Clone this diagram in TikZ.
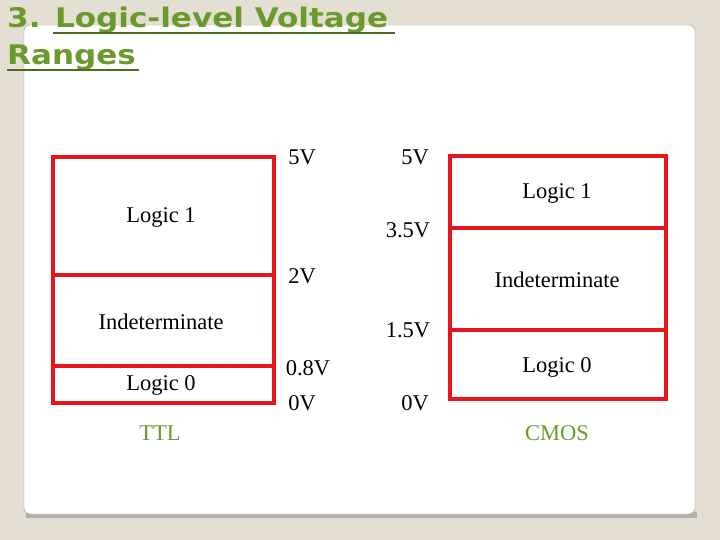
\documentclass[tikz,border=0pt]{standalone}
\usepackage{fontspec}
\setmainfont{Liberation Serif}
\newfontfamily\titlefont{DejaVu Sans}
\definecolor{bg}{HTML}{E4DED3}
\definecolor{grn}{HTML}{6A9A2C}
\definecolor{rd}{HTML}{E8141B}
\definecolor{edge}{HTML}{A09C96}
\begin{document}
\begin{tikzpicture}[x=1pt,y=-1pt,
  box/.style={draw=rd,line width=3.5pt},
  lab/.style={font=\fontsize{22.5}{24}\selectfont,inner sep=0pt},
  ttl/.style={font=\fontsize{22.5}{24}\selectfont,text=grn,inner sep=0pt},
  head/.style={font=\titlefont\bfseries\fontsize{27}{30}\selectfont,text=grn,inner sep=0pt,anchor=base west}]
\fill[bg] (0,0) rectangle (720,540);
\useasboundingbox (0,0) rectangle (720,540);
\fill[edge!80] (26,512) rectangle (697,518);
\draw[edge,fill=white,rounded corners=6pt] (24,25) rectangle (695,514);
\node[head] (h1) at (7,28) {\scalebox{1.15}[1]{3. Logic-level Voltage}};
\node[head] (h2) at (7,65) {\scalebox{1.15}[1]{Ranges}};
\draw[grn!70!black,line width=1.3pt] (53,33) -- (395,33);
\draw[grn!70!black,line width=1.3pt] (7,70) -- (139,70);
% TTL
\draw[box] (53,157) rectangle (274,403);
\draw[box] (53,275) -- (274,275);
\draw[box] (53,366) -- (274,366);
\node[lab] (t1) at (161,217) {Logic 1};
\node[lab] (t2) at (161,322) {Indeterminate};
\node[lab] (t3) at (161,385) {Logic 0};
\node[ttl] (ttl) at (160,433) {TTL};
\node[lab] (a) at (302,157) {5V};
\node[lab] (b) at (302,276) {2V};
\node[lab] (c) at (308,368) {0.8V};
\node[lab] (d) at (302,403) {0V};
% CMOS
\draw[box] (450,156) rectangle (666,399);
\draw[box] (450,228) -- (666,228);
\draw[box] (450,330) -- (666,330);
\node[lab] (c1) at (557,193) {Logic 1};
\node[lab] (c2) at (557,280) {Indeterminate};
\node[lab] (c3) at (557,367) {Logic 0};
\node[ttl] (cmos) at (557,433) {CMOS};
\node[lab] (e) at (415,157) {5V};
\node[lab] (f) at (408,230) {3.5V};
\node[lab] (g) at (408,330) {1.5V};
\node[lab] (h) at (415,403) {0V};
\end{tikzpicture}
\end{document}
